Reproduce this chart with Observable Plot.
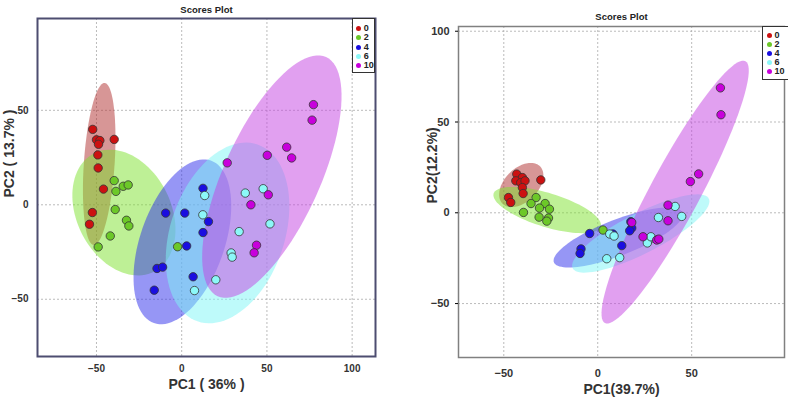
<!DOCTYPE html>
<html>
<head>
<meta charset="utf-8">
<script src="https://cdn.jsdelivr.net/npm/d3@7"></script>
<script src="https://cdn.jsdelivr.net/npm/@observablehq/plot@0.6"></script>
<style>
  html, body { margin: 0; padding: 0; background: #fff; }
  #wrap { position: relative; width: 788px; height: 401px; overflow: hidden; font-family: "Liberation Sans", Arial, sans-serif; }
  .panel { position: absolute; top: 0; }
  .legend { position: absolute; border: 1px solid #333; background: #fff; box-sizing: border-box; }
  .lrow { position: absolute; font-weight: bold; font-size: 9px; color: #222; line-height: 8px; height: 8px; white-space: nowrap; }
  .ldot { display: inline-block; width: 5px; height: 5px; border-radius: 50%; margin-right: 3px; vertical-align: 0px; }
</style>
</head>
<body>
<div id="wrap"></div>
<script>
// ---------- data ----------
const groups = ["0", "2", "4", "6", "10"];
const groupColors = ["#cc1111", "#6cc828", "#1a0ee0", "#8cf8f8", "#c800dc"];
const ellipseColors = ["#af2d2d", "#7de12d", "#2d2deb", "#7df5f5", "#c341e1"];

// Left panel: PC1 (36%) / PC2 (13.7%)
const leftX = {
  "0":  [-52.2, -50, -48, -48.8, -39.6, -49.2, -49, -45.9, -52.4, -54.1],
  "2":  [-39.6, -38.6, -34.3, -31.4, -39, -32.4, -31, -41.9, -49, -2.4],
  "4":  [-9.4, 1.8, 2.9, -14.5, -11.2, -16.1, 12.5, 15.7, 12.5, 6.7],
  "6":  [13.5, 12.4, 37.3, 47.8, 51.8, 33.7, 29, 29.6, 20, 7.5],
  "10": [26.7, 50.2, 64.5, 61.6, 77.3, 76.5, 50.8, 40.6, 43.9, 42.5]
};
const leftY = {
  "0":  [39.9, 34.4, 34, 32, 34.6, 26.4, 19.5, 8.3, -4.1, -10.3],
  "2":  [12.8, 7.1, 9.8, 10.5, -2.5, -8.2, -11.2, -16.5, -22.3, -22.2],
  "4":  [-4.4, -4.4, -21.8, -33.7, -33, -45.2, 8.7, -8.9, -14.7, -38.1],
  "6":  [4.9, -5.3, 6.2, 8.5, -10.1, -14.2, -25.5, -27.7, -39.7, -45.4],
  "10": [22.2, 26.2, 24.8, 30.5, 53, 44.8, 5.3, 0, -21.4, -25.4]
};
// Right panel: PC1 (39.7%) / PC2 (12.2%)
const rightX = {
  "0":  [-43.1, -40.1, -43.6, -41, -38.7, -40.1, -39.7, -30.3, -47.5, -46.3],
  "2":  [-32.8, -35.5, -28, -31, -25.7, -39.5, -31.2, -26.2, -27.1, 2.8],
  "4":  [-4.3, -8.9, -9.4, 17.6, 18.1, 17, 12.8, 8.1],
  "6":  [6.4, 8.7, 4.8, 11.7, 32.3, 41.2, 44.7, 27.7, 26.4, 28.3],
  "10": [65.3, 65.6, 53.7, 49.3, 37.4, 37.4, 18.1, 24.1, 31.4, 32.5]
};
const rightY = {
  "0":  [21.3, 19.4, 17.6, 16.6, 17.6, 13.9, 10.6, 18.1, 8.4, 5.7],
  "2":  [8.4, 5.1, 5.1, 2.6, 2.0, 0.2, -2.4, -2.9, -4.6, -9.5],
  "4":  [-11.4, -19.9, -22.4, -4.9, -8.4, -9.9, -18.1, -11.7],
  "6":  [-11.7, -12.8, -25.3, -24.7, -2.6, 3.5, -2.0, -14.5, -16.6, -13.2],
  "10": [68.8, 54.0, 21.4, 17.2, 4.2, -4.4, -5.3, -13.2, -15.0, -14.5]
};

// Confidence ellipses: centre and two conjugate semi-axis vectors (data units), per group
const leftEllCx = [-48.4, -33.9, 0.4, 26.9, 52.9];
const leftEllCy = [21.6, -4.1, -19.6, -14.9, 14.9];
const leftEllUx = [3.2, 17.6, 16.7, 17.6, 31.8];
const leftEllUy = [42.9, -31.3, 43.0, 46.8, 63.3];
const leftEllVx = [9.0, -24.6, 23.3, 31.7, 25.7];
const leftEllVy = [-0.55, -11.3, -7.4, -9.8, -10.6];

const rightEllCx = [-40.7, -26.9, 10.9, 22.9, 41.2];
const rightEllCy = [15.3, 1.5, -13.6, -11.4, 11.4];
const rightEllUx = [9.96, 28.5, 34.2, 36.2, 37.4];
const rightEllUy = [10.3, -9.1, 13.7, 19.2, 72.1];
const rightEllVx = [6.3, -2.7, 3.5, 4.9, 11.7];
const rightEllVy = [-6.5, -8.9, -9.2, -9.8, -6.5];

const leftXTicks = [-50, 0, 50, 100];
const leftYTicks = [-50, 0, 50];
const rightXTicks = [-50, 0, 50];
const rightYTicks = [-50, 0, 50, 100];

// ---------- helpers ----------
function pointsFrom(X, Y) {
  const out = [];
  groups.forEach(g => X[g].forEach((x, i) => out.push({x, y: Y[g][i], g})));
  return out;
}
function ellipsePolys(cx, cy, ux, uy, vx, vy) {
  return groups.map((g, k) => {
    const pts = [];
    const n = 96;
    for (let i = 0; i < n; i++) {
      const t = 2 * Math.PI * i / n;
      pts.push({x: cx[k] + ux[k] * Math.cos(t) + vx[k] * Math.sin(t),
                y: cy[k] + uy[k] * Math.cos(t) + vy[k] * Math.sin(t)});
    }
    return pts;
  });
}

function makePanel(o) {
  const ells = ellipsePolys(...o.ell);
  const pts = pointsFrom(o.X, o.Y);
  return Plot.plot({
    width: 394, height: 401,
    marginLeft: o.ml, marginTop: o.mt, marginRight: o.mr, marginBottom: o.mb,
    x: {domain: o.xd, ticks: o.xt},
    y: {domain: o.yd, ticks: o.yt},
    color: {domain: groups, range: groupColors},
    style: {fontFamily: "'Liberation Sans', Arial, sans-serif", background: "transparent", overflow: "visible"},
    marks: [
      Plot.gridX(o.xt, {stroke: "#aaa", strokeOpacity: 0.8, strokeDasharray: "2,2"}),
      Plot.gridY(o.yt, {stroke: "#aaa", strokeOpacity: 0.8, strokeDasharray: "2,2"}),
      ...ells.map((e, k) => Plot.line(e, {x: "x", y: "y", curve: "linear-closed", fill: ellipseColors[k], fillOpacity: 0.5, stroke: "none", clip: true})),
      Plot.dot(pts, {x: "x", y: "y", fill: "g", r: 4.2, stroke: "#333", strokeWidth: 0.8}),
      Plot.frame({stroke: o.frameColor, strokeWidth: o.frameWidth}),
      Plot.axisX(o.xt, {tickSize: 0, tickPadding: o.xpad, fontSize: o.tickFont, fontWeight: "bold", fill: "#333", label: null}),
      Plot.axisY(o.yt, {tickSize: o.ytick, tickPadding: o.ypad, fontSize: o.tickFont, fontWeight: "bold", fill: "#333", label: null}),
      Plot.text([o.title], {frameAnchor: "top", dy: o.titleDy, fontSize: 9.5, fontWeight: "bold", fill: "#222"}),
      Plot.text([o.xlabel], {frameAnchor: "bottom", dy: o.xlabDy, fontSize: 14, fontWeight: "bold", fill: "#333"}),
      Plot.text([o.ylabel], {frameAnchor: "left", dx: o.ylabDx, dy: o.ylabDy, rotate: -90, fontSize: 14, fontWeight: "bold", fill: "#333"})
    ]
  });
}

const wrap = document.getElementById("wrap");

const left = makePanel({
  X: leftX, Y: leftY,
  ell: [leftEllCx, leftEllCy, leftEllUx, leftEllUy, leftEllVx, leftEllVy],
  ml: 37, mt: 18, mr: 19, mb: 45,
  xd: [-84.6, 113.7], yd: [-80.3, 98.6], xt: leftXTicks, yt: leftYTicks,
  frameColor: "#4d4d70", frameWidth: 2, xpad: 8, ypad: 9, ytick: 0, tickFont: 10,
  title: "Scores Plot", titleDy: -12,
  xlabel: "PC1 ( 36% )", xlabDy: 32,
  ylabel: "PC2 ( 13.7% )", ylabDx: -28, ylabDy: 10
});
left.classList.add("panel");
left.style.left = "0px";
wrap.appendChild(left);

const right = makePanel({
  X: rightX, Y: rightY,
  ell: [rightEllCx, rightEllCy, rightEllUx, rightEllUy, rightEllVx, rightEllVy],
  ml: 64, mt: 26, mr: 4, mb: 44,
  xd: [-74.1, 99.4], yd: [-79.7, 102.6], xt: rightXTicks, yt: rightYTicks,
  frameColor: "#808080", frameWidth: 1.5, xpad: 12, ypad: 6, ytick: 3, tickFont: 11,
  title: "Scores Plot", titleDy: -13,
  xlabel: "PC1(39.7%)", xlabDy: 36,
  ylabel: "PC2(12.2%)", ylabDx: -25.5, ylabDy: 11.5
});
right.classList.add("panel");
right.style.left = "394px";
wrap.appendChild(right);

// legends
function legend(left, top, w, h, dotX, rowYs) {
  const box = document.createElement("div");
  box.className = "legend";
  Object.assign(box.style, {left: left + "px", top: top + "px", width: w + "px", height: h + "px"});
  wrap.appendChild(box);
  groups.forEach((g, i) => {
    const row = document.createElement("div");
    row.className = "lrow";
    row.style.left = (dotX - 2.5) + "px";
    row.style.top = (rowYs[i] - 4) + "px";
    row.innerHTML = `<span class="ldot" style="background:${groupColors[i]}"></span>${g}`;
    wrap.appendChild(row);
  });
}
legend(352, 18, 23, 55, 358.3, [28.3, 37.3, 46.7, 55.7, 65]);
legend(762, 26, 30, 54, 769, [35, 44.3, 53.3, 62, 71]);
</script>
</body>
</html>
